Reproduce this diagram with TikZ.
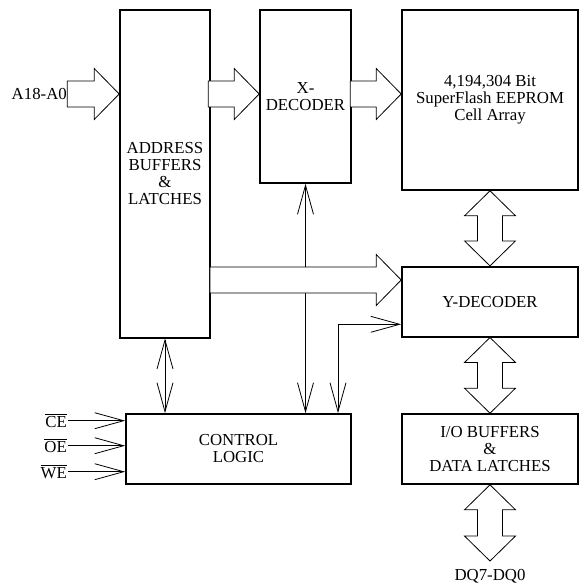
\documentclass[tikz,border=0pt]{standalone}
\usepackage{fontspec}
\setmainfont{Liberation Serif}
\usetikzlibrary{arrows.meta}
\tikzset{
  block/.style={draw, line width=1.6pt, fill=white, align=center, inner sep=0pt},
  bus/.style={draw, fill=white, line width=0.8pt, line join=miter},
  sig/.style={line width=0.8pt}
}
\begin{document}
\begin{tikzpicture}[x=1pt,y=-1pt,>={Straight Barb[length=29pt,width=16pt]},
  every node/.style={font=\fontsize{16.8}{17}\selectfont}]
\useasboundingbox (0,0) rectangle (579,588);

% blocks
\node[block, minimum width=90pt, minimum height=327.7pt] (addr) at (165,173.85) {ADDRESS\\BUFFERS\\\&\\LATCHES};
\node[block, minimum width=91pt, minimum height=173pt] (xdec) at (305.5,96.5) {X-\\DECODER};
\node[block, minimum width=176pt, minimum height=180pt] (cell) at (490,100) {4,194,304 Bit\\SuperFlash EEPROM\\Cell Array};
\node[block, minimum width=176pt, minimum height=70pt] (ydec) at (490,301.7) {Y-DECODER};
\node[block, minimum width=176pt, minimum height=70pt] (io) at (490,449) {I/O BUFFERS\\\&\\DATA LATCHES};
\node[block, minimum width=225pt, minimum height=70pt] (ctrl) at (238.5,449) {CONTROL\\LOGIC};

% pins
\coordinate (ain) at (68,94);
\node[anchor=east, inner sep=1pt] (a18) at (ain) {A18-A0};
\node[anchor=east, inner sep=1pt] (ce) at (68,420.7) {$\overline{\mbox{CE}}$};
\node[anchor=east, inner sep=1pt] (oe) at (68,445.7) {$\overline{\mbox{OE}}$};
\node[anchor=east, inner sep=1pt] (we) at (68,471.7) {$\overline{\mbox{WE}}$};
\coordinate (dqtip) at (490,561);
\node (dq) at (490,576) {DQ7-DQ0};

% single lines
\draw[sig,<->] (xdec.south) -- (xdec.south |- ctrl.north);
\draw[sig,<->] (addr.south) -- (addr.south |- ctrl.north);
\draw[sig,<->] (ctrl.north -| 338,0) |- (ydec.west |- 0,324.3);
\draw[sig,->] (ce.east) -- (ce.east -| ctrl.west);
\draw[sig,->] (oe.east) -- (oe.east -| ctrl.west);
\draw[sig,->] (we.east) -- (we.east -| ctrl.west);

% wide buses
\draw[bus] (addr.west |- ain) --++(-25,-25.5) --++(0,12.5) --++(-27,0) --++(0,26) --++(27,0) --++(0,12.5) -- cycle;
\draw[bus] (xdec.west |- ain) --++(-25,-25.5) --++(0,12.5) --++(-26,0) --++(0,26) --++(26,0) --++(0,12.5) -- cycle;
\draw[bus] (cell.west |- ain) --++(-25,-25.5) --++(0,12.5) --++(-26,0) --++(0,26) --++(26,0) --++(0,12.5) -- cycle;
\draw[bus] (ydec.west |- 0,280) --++(-25,-25.5) --++(0,12.5) --++(-166.3,0) --++(0,26) --++(166.3,0) --++(0,12.5) -- cycle;

\draw[bus] (cell.south) --++(25.5,25) --++(-13,0) -- ([shift={(12.5,-25)}]ydec.north) --++(13,0) -- (ydec.north) --++(-25.5,-25) --++(13,0) -- ([shift={(-12.5,25)}]cell.south) --++(-13,0) -- cycle;
\draw[bus] (ydec.south) --++(25.5,25) --++(-13,0) -- ([shift={(12.5,-25)}]io.north) --++(13,0) -- (io.north) --++(-25.5,-25) --++(13,0) -- ([shift={(-12.5,25)}]ydec.south) --++(-13,0) -- cycle;
\draw[bus] (io.south) --++(25.5,25) --++(-13,0) -- ([shift={(12.5,-25)}]dqtip) --++(13,0) -- (dqtip) --++(-25.5,-25) --++(13,0) -- ([shift={(-12.5,25)}]io.south) --++(-13,0) -- cycle;
\end{tikzpicture}
\end{document}
